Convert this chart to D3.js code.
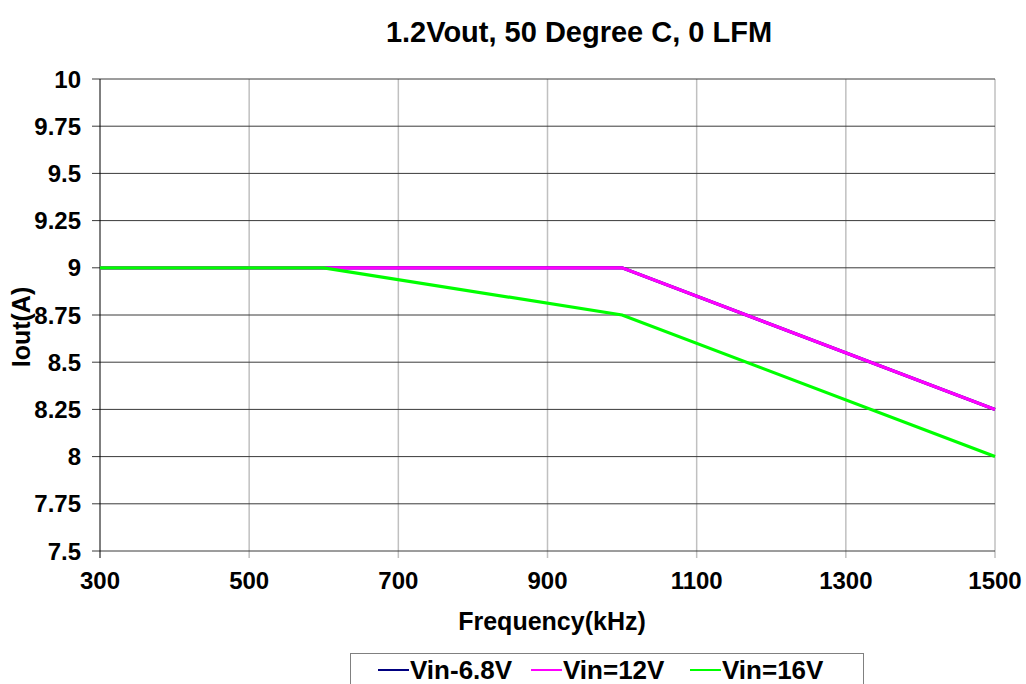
<!DOCTYPE html>
<html>
<head>
<title>1.2Vout derating</title>
<style type="text/css">
	body { margin: 0; background: #fff; }
	svg text { font-family: "Liberation Sans", Arial, sans-serif; font-weight: bold; fill: #000; }
</style>
</head>
<body>
<svg id="chart"></svg>
<script src="https://d3js.org/d3.v7.min.js"></script>
<script type="text/javascript">

	var freq68 = [300, 1000, 1500], iout68 = [9, 9, 8.25];
	var freq12 = [300, 1000, 1500], iout12 = [9, 9, 8.25];
	var freq16 = [300, 600, 1000, 1500], iout16 = [9, 9, 8.75, 8];
	var seriesNames = ["Vin-6.8V", "Vin=12V", "Vin=16V"];
	var seriesColors = ["#000080", "#ff00ff", "#00ff00"];
	var xTicks = [300, 500, 700, 900, 1100, 1300, 1500];
	var yTicks = [7.5, 7.75, 8, 8.25, 8.5, 8.75, 9, 9.25, 9.5, 9.75, 10];

	var width = 1026, height = 684;
	var svg = d3.select("#chart").attr("width", width).attr("height", height);

	var x = d3.scaleLinear().domain([300, 1500]).range([100, 995]);
	var y = d3.scaleLinear().domain([7.5, 10]).range([551, 79]);

	// vertical grid (light)
	svg.append("g").selectAll("line")
		.data(xTicks.slice(1))
		.enter().append("line")
		.attr("x1", d => x(d)).attr("x2", d => x(d))
		.attr("y1", y(10)).attr("y2", y(7.5) + 7)
		.attr("stroke", "#c0c0c0").attr("stroke-width", 1.5);

	// horizontal grid, sticking out left as ticks
	svg.append("g").selectAll("line")
		.data(yTicks)
		.enter().append("line")
		.attr("x1", x(300) - 8).attr("x2", x(1500))
		.attr("y1", d => y(d)).attr("y2", d => y(d))
		.attr("stroke", "#3a3a3a").attr("stroke-width", 1);

	// y axis line
	svg.append("line")
		.attr("x1", x(300)).attr("x2", x(300))
		.attr("y1", y(10)).attr("y2", y(7.5) + 7)
		.attr("stroke", "#000").attr("stroke-width", 1);

	svg.append("g").selectAll("text")
		.data(yTicks)
		.enter().append("text")
		.attr("x", 81).attr("y", d => y(d) + 8.5)
		.attr("text-anchor", "end").style("font-size", "24px")
		.text(d => d);

	svg.append("g").selectAll("text")
		.data(xTicks)
		.enter().append("text")
		.attr("x", d => x(d)).attr("y", 589)
		.attr("text-anchor", "middle").style("font-size", "24px")
		.text(d => d);

	var line = d3.line().x(d => x(d[0])).y(d => y(d[1]));
	var series = [
		d3.zip(freq68, iout68),
		d3.zip(freq12, iout12),
		d3.zip(freq16, iout16)
	];
	svg.append("g").selectAll("path")
		.data(series)
		.enter().append("path")
		.attr("d", line)
		.attr("fill", "none")
		.attr("stroke", (d, i) => seriesColors[i])
		.attr("stroke-width", 3.2);

	svg.append("text")
		.attr("x", 579).attr("y", 42)
		.attr("text-anchor", "middle").style("font-size", "29px")
		.text("1.2Vout, 50 Degree C, 0 LFM");

	svg.append("text")
		.attr("x", 552).attr("y", 630)
		.attr("text-anchor", "middle").style("font-size", "25px")
		.text("Frequency(kHz)");

	svg.append("text")
		.attr("transform", "translate(30,327) rotate(-90)")
		.attr("text-anchor", "middle").style("font-size", "25px")
		.text("Iout(A)");

	// legend
	var legend = svg.append("g");
	legend.append("rect")
		.attr("x", 350.5).attr("y", 653.5).attr("width", 513).attr("height", 40)
		.attr("fill", "#fff").attr("stroke", "#808080").attr("stroke-width", 1);
	var legX = [378, 531, 690];
	seriesNames.forEach(function (n, i) {
		legend.append("line")
			.attr("x1", legX[i]).attr("x2", legX[i] + 31)
			.attr("y1", 670).attr("y2", 670)
			.attr("stroke", seriesColors[i]).attr("stroke-width", 2);
		legend.append("text")
			.attr("x", legX[i] + 32).attr("y", 679)
			.style("font-size", "26px")
			.text(n);
	});
</script>
</body>
</html>
